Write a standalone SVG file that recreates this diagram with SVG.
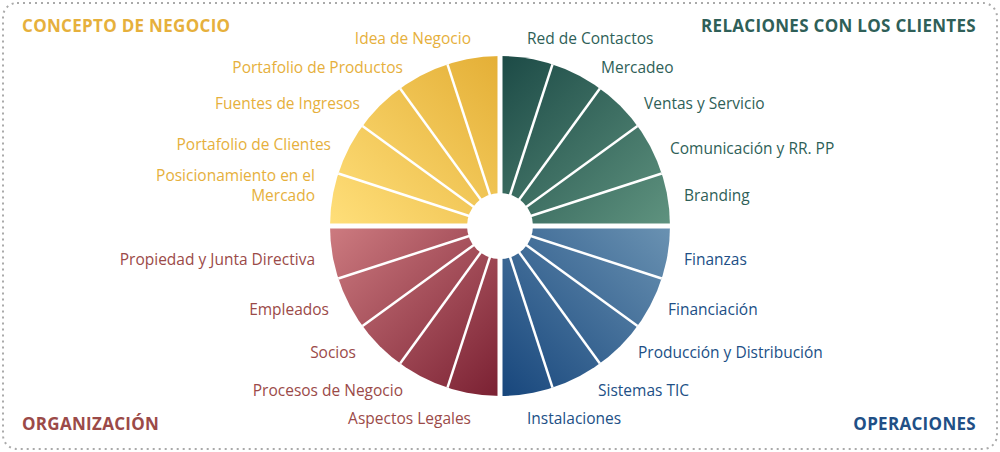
<svg xmlns="http://www.w3.org/2000/svg" width="1000" height="452" viewBox="0 0 1000 452">
<style>
text{font-family:"Open Sans","DejaVu Sans",sans-serif;font-size:15.5px}
.t{font-weight:bold;font-size:17px;letter-spacing:0.3px}
.y{fill:#E6B03C}.g{fill:#2F5F58}.b{fill:#214F86}.r{fill:#9B4A48}
.e{text-anchor:end}
.sep{stroke:#fff;stroke-width:2.5}
</style>
<defs>
<linearGradient id="gy" x1="0" y1="1" x2="1" y2="0"><stop offset="0" stop-color="#FFDF7A"/><stop offset="1" stop-color="#E4AF36"/></linearGradient>
<linearGradient id="gg" x1="0" y1="0" x2="1" y2="1"><stop offset="0" stop-color="#1C4A46"/><stop offset="1" stop-color="#5F937F"/></linearGradient>
<linearGradient id="gb" x1="0" y1="1" x2="1" y2="0"><stop offset="0" stop-color="#17467C"/><stop offset="1" stop-color="#6A92B2"/></linearGradient>
<linearGradient id="gr" x1="0" y1="0" x2="1" y2="1"><stop offset="0" stop-color="#CD7B80"/><stop offset="1" stop-color="#7A2032"/></linearGradient>
</defs>
<rect x="3" y="3" width="994" height="446" rx="14" fill="none" stroke="#aaa" stroke-width="2" stroke-dasharray="2 4"/>
<g id="wheel">
<path d="M500 226 L330 226 A170 170 0 0 1 500 56 Z" fill="url(#gy)"/>
<path d="M500 226 L500 56 A170 170 0 0 1 670 226 Z" fill="url(#gg)"/>
<path d="M500 226 L670 226 A170 170 0 0 1 500 396 Z" fill="url(#gb)"/>
<path d="M500 226 L500 396 A170 170 0 0 1 330 226 Z" fill="url(#gr)"/>
<g class="sep">
<line x1="500" y1="226" x2="661.7" y2="173.5"/><line x1="500" y1="226" x2="637.5" y2="126.1"/><line x1="500" y1="226" x2="599.9" y2="88.5"/><line x1="500" y1="226" x2="552.5" y2="64.3"/>
<line x1="500" y1="226" x2="338.3" y2="173.5"/><line x1="500" y1="226" x2="362.5" y2="126.1"/><line x1="500" y1="226" x2="400.1" y2="88.5"/><line x1="500" y1="226" x2="447.5" y2="64.3"/>
<line x1="500" y1="226" x2="661.7" y2="278.5"/><line x1="500" y1="226" x2="637.5" y2="325.9"/><line x1="500" y1="226" x2="599.9" y2="363.5"/><line x1="500" y1="226" x2="552.5" y2="387.7"/>
<line x1="500" y1="226" x2="338.3" y2="278.5"/><line x1="500" y1="226" x2="362.5" y2="325.9"/><line x1="500" y1="226" x2="400.1" y2="363.5"/><line x1="500" y1="226" x2="447.5" y2="387.7"/>
</g>
<line x1="325" y1="226" x2="675" y2="226" stroke="#fff" stroke-width="5"/>
<line x1="500" y1="50" x2="500" y2="400" stroke="#fff" stroke-width="5"/>
<circle cx="500" cy="226" r="33" fill="#fff"/>
</g>
<g id="labels">
<text class="t y" x="22" y="32">CONCEPTO DE NEGOCIO</text>
<text class="t g e" x="976" y="32">RELACIONES CON LOS CLIENTES</text>
<text class="t r" x="22" y="430">ORGANIZACIÓN</text>
<text class="t b e" x="976" y="430">OPERACIONES</text>
<text class="y e" x="471" y="44">Idea de Negocio</text>
<text class="y e" x="403" y="73">Portafolio de Productos</text>
<text class="y e" x="360" y="109">Fuentes de Ingresos</text>
<text class="y e" x="331" y="150">Portafolio de Clientes</text>
<text class="y e" x="315" y="181">Posicionamiento en el</text>
<text class="y e" x="315" y="201">Mercado</text>
<text class="g" x="527" y="44">Red de Contactos</text>
<text class="g" x="601" y="73">Mercadeo</text>
<text class="g" x="644" y="109">Ventas y Servicio</text>
<text class="g" x="670" y="154">Comunicación y RR. PP</text>
<text class="g" x="684" y="201">Branding</text>
<text class="b" x="684" y="265">Finanzas</text>
<text class="b" x="668" y="315">Financiación</text>
<text class="b" x="638" y="358">Producción y Distribución</text>
<text class="b" x="598" y="396">Sistemas TIC</text>
<text class="b" x="527" y="424">Instalaciones</text>
<text class="r e" x="315" y="265">Propiedad y Junta Directiva</text>
<text class="r e" x="329" y="315">Empleados</text>
<text class="r e" x="356" y="358">Socios</text>
<text class="r e" x="403" y="396">Procesos de Negocio</text>
<text class="r e" x="471" y="424">Aspectos Legales</text>
</g>
</svg>
